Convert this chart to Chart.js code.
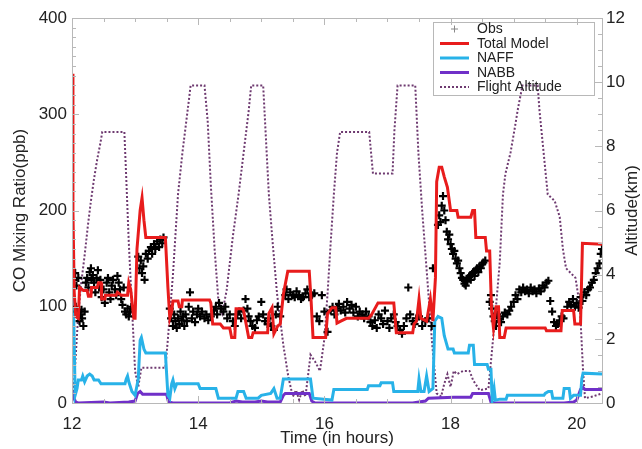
<!DOCTYPE html>
<html>
<head>
<meta charset="utf-8">
<script src="https://cdn.jsdelivr.net/npm/chart.js@4.4.0/dist/chart.umd.min.js"></script>
<style>
  body { margin: 0; background: #fff; }
</style>
</head>
<body>
<canvas id="mychart" width="642" height="449"></canvas>
<script>
// observations
var obsTime = [12.03, 12.05, 12.06, 12.07, 12.09, 12.1, 12.12, 12.13, 12.15, 12.16, 12.18, 12.2, 12.22, 12.24, 12.26, 12.28, 12.3, 12.31, 12.33, 12.35, 12.37, 12.39, 12.41, 12.43, 12.45, 12.47, 12.5, 12.52, 12.55, 12.57, 12.59, 12.61, 12.63, 12.65, 12.68, 12.7, 12.72, 12.74, 12.76, 12.78, 12.8, 12.82, 12.84, 12.86, 12.88, 12.9, 12.92, 12.94,
  13.05, 13.07, 13.09, 13.11, 13.13, 13.15, 13.17, 13.2, 13.22, 13.25, 13.27, 13.3, 13.32, 13.35, 13.38, 13.4, 13.43, 13.45,
  13.55, 13.57, 13.6, 13.62, 13.64, 13.66, 13.68, 13.7, 13.72, 13.74, 13.76, 13.78, 13.8, 13.82, 13.85, 13.87, 13.9, 13.92, 13.95, 13.98,
  14.0, 14.03, 14.06, 14.1, 14.13, 14.16, 14.2, 14.25, 14.28, 14.3, 14.33, 14.36, 14.4, 14.43, 14.46, 14.5,
  14.55, 14.58, 14.62, 14.65, 14.68, 14.72, 14.75, 14.78, 14.8, 14.83, 14.86, 14.9, 14.93, 14.96, 15.0, 15.03, 15.06, 15.1, 15.13, 15.16, 15.2, 15.23, 15.26, 15.3,
  15.38, 15.4, 15.43, 15.46, 15.5, 15.53, 15.56, 15.6, 15.63, 15.66, 15.7, 15.73, 15.76, 15.8, 15.84, 15.88, 15.92, 15.96, 16.0, 16.05,
  16.1, 16.13, 16.16, 16.2, 16.23, 16.26, 16.3, 16.33, 16.36, 16.4, 16.43, 16.46, 16.5, 16.53, 16.56, 16.6, 16.63, 16.66,
  16.7, 16.73, 16.76, 16.8, 16.83, 16.86, 16.9, 16.93, 16.96, 17.0, 17.03, 17.06, 17.1, 17.13, 17.16, 17.2, 17.23, 17.26, 17.3, 17.33, 17.36, 17.4, 17.43, 17.46, 17.5, 17.55, 17.6, 17.65, 17.7, 17.72,
  17.8, 17.82, 17.84, 17.86, 17.88, 17.9, 17.92, 17.94, 17.96, 17.98, 18.0, 18.02, 18.04, 18.06, 18.08, 18.1, 18.12, 18.14, 18.16, 18.18, 18.2, 18.22, 18.24, 18.26, 18.28, 18.3, 18.32, 18.34, 18.36, 18.38, 18.4, 18.42, 18.44, 18.46, 18.48, 18.5, 18.52, 18.55,
  18.62, 18.64, 18.66, 18.68, 18.7, 18.72, 18.74, 18.76, 18.8, 18.83, 18.86, 18.9, 18.93, 18.96, 19.0, 19.03, 19.06, 19.09, 19.12, 19.15, 19.18, 19.21, 19.24, 19.27, 19.3, 19.33, 19.36, 19.4, 19.43, 19.46, 19.49, 19.52, 19.55, 19.58, 19.61, 19.64, 19.67, 19.7, 19.73, 19.76, 19.79,
  19.85, 19.88, 19.91, 19.94, 19.97, 20.0, 20.03, 20.06, 20.09, 20.12, 20.15, 20.18, 20.21, 20.24, 20.27, 20.3, 20.33, 20.36, 20.38, 20.4]
var obsCO = [128, 135, 100, 122, 95, 130, 85, 92, 97, 88, 80, 95, 125, 130, 120, 136, 140, 128, 133, 125, 115, 130, 138, 120, 128, 110, 118, 104, 125, 130, 115, 108, 122, 128, 118, 112, 132, 125, 118, 108, 102, 120, 95, 92, 98, 90, 95, 100,
  152, 140, 148, 135, 142, 128, 155, 150, 158, 162, 155, 165, 160, 168, 162, 170, 166, 172,
  98, 88, 80, 92, 85, 78, 88, 82, 95, 86, 90, 80, 92, 85, 100, 115, 88, 95, 84, 92,
  98, 90, 95, 88, 92, 86, 90, 96, 100, 92, 104, 98, 95, 100, 88, 92,
  85, 80, 92, 95, 88, 96, 108, 98, 90, 85, 80, 78, 86, 90, 105, 92, 85, 82, 88, 80, 76, 92, 100, 90,
  112, 118, 108, 115, 112, 110, 116, 112, 108, 110, 114, 118, 110, 112, 114, 90, 85, 112, 95, 74,
  96, 100, 92, 98, 103, 96, 100, 94, 105, 98, 102, 94, 100, 90, 95, 92, 88, 95,
  90, 84, 80, 86, 78, 92, 88, 82, 96, 85, 78, 88, 92, 84, 80, 76, 72, 80, 88, 120, 92, 85, 82, 88, 90, 80, 85, 88, 80, 140,
  185, 195, 188, 205, 215, 200, 190, 178, 170, 175, 165, 160, 155, 158, 150, 145, 148, 140, 135, 130, 128, 124, 122, 126, 130, 132, 128, 134, 136, 132, 138, 140, 136, 142, 140, 144, 146, 148,
  105, 112, 98, 90, 85, 80, 92, 88, 84, 90, 94, 92, 96, 100, 105, 112, 108, 118, 115, 120, 116, 118, 114, 120, 116, 118, 114, 119, 116, 122, 120, 125, 127, 106, 95, 84, 80, 82, 86, 90, 88,
  100, 105, 102, 108, 100, 104, 99, 110, 106, 115, 112, 118, 120, 125, 128, 135, 140, 145, 155, 160]

// total model
var modelTime = [12.0, 12.015, 12.035, 12.06, 12.1, 12.12, 12.18, 12.24, 12.26, 12.3, 12.31, 12.4, 12.42, 12.46, 12.47, 12.52, 12.53, 12.7, 12.72, 12.78, 12.88, 12.9, 12.93, 12.96, 12.98, 13.0,
  13.03, 13.08, 13.11, 13.14, 13.17, 13.48, 13.52, 13.55, 13.58, 13.6, 13.68, 13.7, 13.74, 13.75, 14.18, 14.2, 14.23, 14.35, 14.4, 14.5, 14.53, 14.58, 14.6, 14.7, 14.72, 14.8, 14.85, 14.87,
  15.1, 15.12, 15.17, 15.2, 15.26, 15.3, 15.35, 15.42, 15.76, 15.79, 15.82, 16.02, 16.05, 16.12, 16.18, 16.2, 16.26, 16.35, 16.7, 16.75, 16.85, 17.1, 17.14, 17.4, 17.42, 17.46, 17.5, 17.53,
  17.62, 17.68, 17.72, 17.76, 17.78, 17.82, 17.86, 17.9, 17.95, 18.0, 18.1, 18.12, 18.32, 18.35, 18.38, 18.4, 18.55, 18.57, 18.62, 18.65, 18.68, 18.72, 18.76, 18.78, 18.85, 18.88,
  19.5, 19.52, 19.75, 19.77, 19.95, 19.97, 20.06, 20.09, 20.4]
var modelCO = [342, 200, 115, 90, 88, 120, 117, 117, 111, 111, 120, 120, 125, 125, 108, 108, 112, 112, 115, 112, 112, 125, 118, 100, 88, 88,
  160, 200, 213, 190, 172, 172, 120, 88, 95, 106, 106, 100, 100, 107, 107, 104, 82, 82, 78, 78, 68, 68, 98, 98, 96, 68, 68, 73,
  73, 93, 99, 72, 80, 82, 113, 137, 137, 106, 68, 68, 93, 99, 99, 83, 85, 88, 88, 92, 104, 104, 73, 73, 82, 85, 108, 88,
  85, 108, 85, 130, 230, 245, 245, 235, 224, 200, 200, 193, 193, 200, 200, 172, 172, 158, 158, 96, 78, 100, 100, 68, 68, 78,
  78, 75, 75, 96, 96, 82, 82, 166, 165]

// NAFF
var naffTime = [12.0, 12.05, 12.08, 12.1, 12.15, 12.17, 12.2, 12.24, 12.28, 12.32, 12.35, 12.42, 12.46, 12.84, 12.86, 12.88, 12.9, 12.95, 13.0, 13.05, 13.08, 13.1, 13.14, 13.17, 13.48,
  13.52, 13.55, 13.58, 13.6, 13.63, 13.66, 14.0, 14.03, 14.28, 14.32, 14.6, 14.63, 14.72, 14.76, 14.95, 15.0, 15.15, 15.2, 15.25, 15.3, 15.35, 15.78, 15.82, 16.12, 16.15, 16.68, 16.7,
  16.88, 16.9, 17.08, 17.1, 17.48, 17.5, 17.53, 17.58, 17.62, 17.66, 17.72, 17.75, 17.8, 17.86, 17.9, 17.96, 18.04, 18.06, 18.28, 18.3, 18.36, 18.38, 18.58, 18.6, 18.64, 18.66, 18.69,
  18.71, 18.78, 18.88, 18.9, 19.48, 19.5, 19.55, 19.6, 19.62, 19.78, 19.8, 19.88, 19.9, 19.95, 20.06, 20.08, 20.1, 20.4]
var naffCO = [188, 8, 15, 24, 24, 28, 22, 28, 30, 28, 24, 24, 20, 20, 25, 28, 22, 12, 8, 25, 65, 68, 56, 52, 52,
  8, 5, 20, 24, 15, 20, 20, 15, 15, 5, 5, 12, 12, 5, 5, 8, 10, 15, 5, 5, 25, 25, 5, 3, 14, 14, 18,
  18, 21, 21, 12, 12, 25, 12, 12, 28, 12, 15, 85, 90, 88, 70, 56, 56, 52, 52, 60, 60, 40, 40, 35, 35, 3, 15,
  3, 4, 4, 8, 8, 10, 12, 12, 5, 5, 15, 15, 5, 8, 8, 25, 31, 30]

// NABB
var nabbTime = [12.0, 12.03, 12.06, 12.1, 12.5, 12.6, 12.9, 13.0, 13.04, 13.08, 13.12, 13.5, 13.53, 13.6, 14.5, 14.6, 14.7, 14.9, 15.0, 15.1, 15.3, 15.35, 15.38, 15.76, 15.8, 15.85,
  17.4, 17.5, 17.6, 17.65, 18.05, 18.32, 18.35, 18.6, 18.64, 18.7, 19.8, 19.95, 20.0, 20.06, 20.1, 20.13, 20.4]
var nabbCO = [12, 5, 1, 0, 1, 0, 1, 2, 10, 12, 9, 9, 1, 0, 0, 2, 1, 1, 2, 1, 1, 8, 10, 10, 2, 0,
  0, 1, 2, 5, 6, 6, 10, 10, 1, 0, 0, 1, 3, 14, 16, 14, 14]

// flight altitude (km)
var altTime = [12.0, 12.03, 12.06, 12.1, 12.15, 12.2, 12.25, 12.3, 12.35, 12.4, 12.45, 12.48, 12.83, 12.86, 12.9, 12.95, 13.0, 13.05, 13.1, 13.48,
  13.52, 13.6, 13.68, 13.75, 13.8, 13.85, 13.88, 14.1, 14.15, 14.2, 14.26, 14.32, 14.38, 14.45, 14.55, 14.64, 14.72, 14.8, 14.84, 15.03,
  15.08, 15.12, 15.18, 15.25, 15.35, 15.43, 15.5, 15.55, 15.6, 15.65, 15.7, 15.75, 15.78, 15.85, 15.93, 16.0, 16.05, 16.1, 16.15, 16.2, 16.25,
  16.71, 16.74, 16.77, 17.08, 17.11, 17.16, 17.44, 17.49, 17.55, 17.63, 17.71, 17.78, 17.85, 17.9, 17.95, 18.0, 18.05, 18.1, 18.2, 18.3,
  18.36, 18.46, 18.6, 18.65, 18.72, 18.78, 18.83, 18.87, 18.95, 19.02, 19.07, 19.14, 19.38, 19.41, 19.46, 19.54, 19.65, 19.73, 19.78,
  19.83, 19.98, 20.05, 20.1, 20.13, 20.25, 20.4]
var altKm = [0.1, 0.5, 1.5, 2.8, 3.8, 4.6, 5.5, 6.3, 7.0, 7.6, 8.1, 8.45, 8.45, 7.0, 5.0, 3.0, 1.0, 0.5, 1.1, 1.1,
  2.0, 4.0, 6.5, 7.8, 8.6, 9.4, 9.9, 9.9, 8.8, 6.8, 4.8, 3.2, 2.8, 3.5, 5.2, 6.5, 7.8, 9.1, 9.9, 9.9,
  8.0, 6.5, 5.0, 3.4, 1.8, 0.8, 0.2, 0.4, 0.1, 0.4, 0.2, 1.0, 1.5, 1.3, 1.0, 2.0, 3.4, 5.0, 6.5, 7.8, 8.45,
  8.45, 7.8, 7.15, 7.15, 8.5, 9.9, 9.9, 7.8, 6.0, 3.9, 1.8, 0.3, 0.2, 0.6, 0.9, 0.5, 1.0, 0.9, 1.0, 1.0,
  0.7, 0.4, 0.45, 1.5, 3.0, 4.4, 6.5, 7.15, 7.8, 8.6, 9.2, 9.9, 9.9, 9.1, 8.1, 6.5, 6.3, 5.8, 4.8,
  4.2, 3.9, 3.0, 1.0, 0.15, 0.2, 0.3]

var timeTicks = [12, 14, 16, 18, 20]
var coTicks = [0, 100, 200, 300, 400]
var altTicks = [0, 2, 4, 6, 8, 10, 12]

var font = 'Liberation Sans, Arial, Helvetica, sans-serif'
var frameColor = '#b8b8b8'

function pts(xs, ys) {
    return xs.map(function (x, i) { return { x: x, y: ys[i] } })
}

var legendItems = [
    { label: 'Obs', kind: 'cross', color: '#888' },
    { label: 'Total Model', kind: 'line', color: 'rgb(232, 28, 28)' },
    { label: 'NAFF', kind: 'line', color: 'rgb(40, 178, 232)' },
    { label: 'NABB', kind: 'line', color: 'rgb(112, 48, 200)' },
    { label: 'Flight Altitude', kind: 'dot', color: 'rgb(110, 58, 112)' }
]

var framePlugin = {
    id: 'frame',
    afterDraw: function (chart) {
        var c = chart.ctx
        var a = chart.chartArea
        var sx = chart.scales.x, sy = chart.scales.y, sy2 = chart.scales.y2
        c.save()
        c.strokeStyle = frameColor
        c.lineWidth = 1
        c.strokeRect(Math.round(a.left) + 0.5, Math.round(a.top) + 0.5, Math.round(a.right - a.left), Math.round(a.bottom - a.top))

        c.beginPath()
        for (var t = 12; t <= 20.4; t += 0.5) {
            var px = Math.round(sx.getPixelForValue(t)) + 0.5
            var len = (t % 2 === 0) ? 7 : 4
            c.moveTo(px, a.bottom); c.lineTo(px, a.bottom - len)
            c.moveTo(px, a.top); c.lineTo(px, a.top + len)
        }
        for (var v = 0; v <= 400; v += 10) {
            var py = Math.round(sy.getPixelForValue(v)) + 0.5
            var l1 = (v % 100 === 0) ? 7 : 4
            c.moveTo(a.left, py); c.lineTo(a.left + l1, py)
        }
        for (var k = 0; k <= 12; k += 0.5) {
            var py2 = Math.round(sy2.getPixelForValue(k)) + 0.5
            var l2 = (k % 2 === 0) ? 7 : 4
            c.moveTo(a.right, py2); c.lineTo(a.right - l2, py2)
        }
        c.stroke()

        // right axis title, reading upwards
        c.fillStyle = '#222'
        c.font = '17px ' + font
        c.textAlign = 'center'
        c.textBaseline = 'middle'
        c.translate(632, (a.top + a.bottom) / 2)
        c.rotate(-Math.PI / 2)
        c.fillText('Altitude(km)', 0, 0)
        c.restore()

        // legend
        c.save()
        c.strokeStyle = frameColor
        c.lineWidth = 1
        c.strokeRect(433.5, 22.5, 161, 73)
        c.font = '14px ' + font
        c.textAlign = 'left'
        c.textBaseline = 'middle'
        legendItems.forEach(function (it, i) {
            var y = 29 + i * 14.5
            c.strokeStyle = it.color
            c.setLineDash([])
            if (it.kind === 'cross') {
                c.lineWidth = 1
                c.beginPath()
                c.moveTo(451, y); c.lineTo(458, y)
                c.moveTo(454.5, y - 3.5); c.lineTo(454.5, y + 3.5)
                c.stroke()
            } else {
                c.lineWidth = it.kind === 'dot' ? 2 : 3
                if (it.kind === 'dot') c.setLineDash([2, 2])
                c.beginPath()
                c.moveTo(440, y); c.lineTo(469, y)
                c.stroke()
            }
            c.fillStyle = '#222'
            c.fillText(it.label, 477, y + 0.5)
        })
        c.restore()
    }
}

var ctx = document.getElementById('mychart')

var mychart = new Chart(ctx, {
    type: 'line',
    data: {
        datasets: [
            {
                label: 'Obs',
                data: pts(obsTime, obsCO),
                showLine: false,
                pointStyle: 'cross',
                pointRadius: 4,
                pointBorderWidth: 2.2,
                pointBorderColor: '#000',
                borderColor: '#000',
                yAxisID: 'y',
                order: 2
            },
            {
                label: 'Total Model',
                data: pts(modelTime, modelCO),
                borderColor: legendItems[1].color,
                borderWidth: 3,
                pointRadius: 0,
                tension: 0,
                yAxisID: 'y',
                order: 1
            },
            {
                label: 'NAFF',
                data: pts(naffTime, naffCO),
                borderColor: legendItems[2].color,
                borderWidth: 3,
                pointRadius: 0,
                tension: 0,
                yAxisID: 'y',
                order: 3
            },
            {
                label: 'NABB',
                data: pts(nabbTime, nabbCO),
                borderColor: legendItems[3].color,
                borderWidth: 3,
                pointRadius: 0,
                tension: 0,
                yAxisID: 'y',
                order: 4
            },
            {
                label: 'Flight Altitude',
                data: pts(altTime, altKm),
                borderColor: legendItems[4].color,
                borderWidth: 2,
                borderDash: [2, 2],
                pointRadius: 0,
                tension: 0,
                yAxisID: 'y2',
                order: 5
            }
        ]
    },
    options: {
        responsive: false,
        animation: false,
        events: [],
        layout: { padding: { top: 18, left: 0, right: 0, bottom: 0 } },
        plugins: {
            legend: { display: false },
            tooltip: { enabled: false }
        },
        scales: {
            x: {
                type: 'linear',
                min: 12,
                max: 20.4,
                afterBuildTicks: function (s) { s.ticks = timeTicks.map(function (v) { return { value: v } }) },
                ticks: { padding: 11, color: '#222', font: { family: font, size: 17 }, maxRotation: 0 },
                grid: { display: false, drawTicks: false },
                border: { display: false },
                title: { display: true, text: 'Time (in hours)', color: '#222', font: { family: font, size: 17 }, padding: { top: 0, bottom: 0 } },
                afterFit: function (s) { s.height = 46 }
            },
            y: {
                position: 'left',
                min: 0,
                max: 400,
                afterBuildTicks: function (s) { s.ticks = coTicks.map(function (v) { return { value: v } }) },
                ticks: { padding: 5, color: '#222', font: { family: font, size: 17 } },
                grid: { display: false, drawTicks: false },
                border: { display: false },
                title: { display: true, text: 'CO Mixing Ratio(ppb)', color: '#222', font: { family: font, size: 17 }, padding: { top: 10, bottom: 0 } },
                afterFit: function (s) { s.width = 72 }
            },
            y2: {
                position: 'right',
                min: 0,
                max: 12,
                afterBuildTicks: function (s) { s.ticks = altTicks.map(function (v) { return { value: v } }) },
                ticks: { padding: 4, color: '#222', font: { family: font, size: 17 } },
                grid: { display: false, drawTicks: false },
                border: { display: false },
                afterFit: function (s) { s.width = 40 }
            }
        }
    },
    plugins: [framePlugin]
})
</script>
</body>
</html>
